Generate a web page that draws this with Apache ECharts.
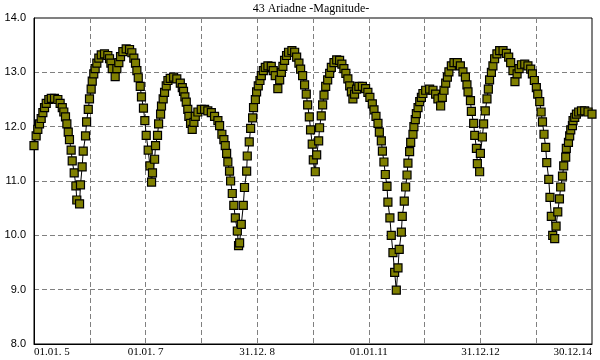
<!DOCTYPE html>
<html><head><meta charset="utf-8">
<script src="https://cdn.jsdelivr.net/npm/echarts@6/dist/echarts.min.js"></script>
<style>html,body{margin:0;padding:0;background:#fff}#c{width:600px;height:360px}</style>
</head><body><div id="c"></div>
<script>
// days since 2005-01-01
const dayOffsets = [0,14,25,36,47,58,69,80,97,113,134,156,171,185,195,206,215,224,232,243,250,263,274,280,298,304,315,322,337,344,355,363,374,381,391,400,411,424,440,461,483,494,503,512,531,542,555,566,581,603,625,640,653,664,673,682,695,703,716,725,734,747,758,769,775,789,795,808,815,828,834,845,854,865,876,891,913,934,957,970,978,987,996,1006,1013,1024,1035,1046,1055,1072,1094,1116,1137,1160,1181,1203,1214,1229,1242,1251,1260,1268,1279,1286,1297,1307,1317,1330,1338,1345,1356,1369,1377,1391,1395,1408,1417,1430,1436,1448,1456,1467,1478,1487,1500,1513,1530,1552,1565,1578,1595,1607,1618,1628,1639,1652,1665,1687,1705,1718,1733,1744,1757,1770,1781,1790,1801,1809,1820,1827,1840,1849,1862,1868,1879,1888,1897,1908,1921,1934,1945,1962,1980,1999,2014,2027,2040,2053,2065,2076,2086,2097,2110,2125,2148,2169,2184,2197,2213,2224,2237,2250,2259,2272,2279,2289,2298,2309,2315,2328,2337,2348,2359,2370,2381,2389,2403,2409,2422,2431,2440,2446,2457,2464,2479,2485,2494,2501,2512,2523,2534,2544,2562,2588,2610,2627,2642,2660,2671,2682,2693,2704,2714,2730,2747,2769,2789,2806,2822,2832,2839,2855,2861,2876,2883,2894,2900,2915,2920,2933,2941,2952,2963,2972,2980,2992,3002,3013,3028,3046,3068,3090,3105,3118,3133,3146,3160,3173,3188,3210,3231,3249,3260,3273,3286,3295,3308,3317,3326,3336,3347,3354,3367,3375,3384,3393,3406,3415,3426,3437,3445,3457,3465,3478,3482,3496,3504,3511,3522,3526,3537,3548,3563,3581,3602,3624,3650];
const magnitudes = [11.65,11.83,11.95,12.05,12.15,12.26,12.35,12.43,12.50,12.52,12.52,12.50,12.43,12.35,12.27,12.18,12.05,11.90,11.76,11.57,11.37,11.15,10.91,10.65,10.58,10.93,11.26,11.55,11.83,12.09,12.32,12.51,12.69,12.84,12.97,13.07,13.17,13.26,13.32,13.34,13.31,13.25,13.17,13.07,12.92,13.07,13.18,13.29,13.38,13.43,13.42,13.36,13.26,13.17,13.03,12.90,12.74,12.55,12.34,12.11,11.84,11.57,11.28,10.98,11.15,11.40,11.65,11.84,12.05,12.23,12.38,12.51,12.63,12.75,12.85,12.89,12.91,12.88,12.80,12.72,12.65,12.55,12.45,12.32,12.19,12.06,11.95,12.08,12.19,12.27,12.32,12.32,12.29,12.26,12.19,12.11,12.02,11.86,11.76,11.65,11.51,11.35,11.18,11.00,10.77,10.55,10.32,10.08,9.81,9.86,10.20,10.55,10.88,11.18,11.46,11.72,11.97,12.16,12.35,12.50,12.64,12.75,12.85,12.94,13.03,13.09,13.12,13.11,13.03,12.94,12.70,12.86,13.00,13.11,13.22,13.31,13.37,13.40,13.37,13.28,13.17,13.06,12.94,12.77,12.60,12.40,12.18,11.94,11.68,11.39,11.17,11.48,11.74,11.98,12.20,12.40,12.58,12.74,12.86,12.98,13.09,13.18,13.23,13.22,13.15,13.07,12.98,12.88,12.75,12.64,12.51,12.60,12.69,12.74,12.74,12.70,12.63,12.54,12.42,12.31,12.19,12.06,11.90,11.74,11.55,11.35,11.12,10.90,10.61,10.32,10.00,9.68,9.32,8.99,9.40,9.74,10.06,10.35,10.63,10.89,11.11,11.33,11.54,11.71,11.86,12.00,12.13,12.24,12.35,12.46,12.54,12.61,12.67,12.69,12.67,12.60,12.51,12.38,12.54,12.67,12.80,12.91,13.01,13.12,13.18,13.18,13.12,13.01,12.91,12.77,12.64,12.48,12.28,12.06,11.84,11.60,11.32,11.17,11.51,11.81,12.05,12.29,12.51,12.69,12.86,13.00,13.12,13.25,13.34,13.40,13.40,13.35,13.28,13.18,13.03,12.83,12.97,13.07,13.14,13.15,13.12,13.06,12.97,12.85,12.72,12.60,12.46,12.27,12.09,11.86,11.62,11.34,11.03,10.70,10.35,10.00,9.94,10.17,10.43,10.67,10.89,11.09,11.28,11.44,11.60,11.71,11.83,11.94,12.02,12.11,12.17,12.23,12.27,12.29,12.29,12.27,12.23];
const xTickLabels = ['01.01. 5','01.01. 7','31.12. 8','01.01.11','31.12.12','30.12.14'];
const yMin = 8, yMax = 14;
const titleText = '43 Ariadne -Magnitude-';

const points = dayOffsets.map((d, i) => [d, magnitudes[i]]);
const chart = echarts.init(document.getElementById('c'), null, {renderer: 'canvas'});
chart.setOption({
  animation: false,
  backgroundColor: '#fff',
  title: {
    text: titleText, left: 311, top: 3, padding: 0, textAlign: 'center',
    textStyle: {fontFamily: 'Liberation Serif', fontSize: 12, fontWeight: 'normal', color: '#000'}
  },
  grid: {left: 34, right: 8, top: 18, bottom: 16, show: true, borderColor: '#000', borderWidth: 1, backgroundColor: 'transparent'},
  xAxis: {
    type: 'value', min: 0, max: 3650, interval: 365,
    axisLine: {show: true, lineStyle: {color: '#000', width: 1}},
    axisTick: {show: false},
    splitLine: {show: true, lineStyle: {color: '#808080', type: [5, 3], width: 1}},
    axisLabel: {
      margin: 3, fontFamily: 'Liberation Serif', fontSize: 11, color: '#000',
      showMinLabel: true, showMaxLabel: true, alignMinLabel: 'left', alignMaxLabel: 'right',
      formatter: v => { const k = Math.round(v / 365); return k % 2 === 0 ? (xTickLabels[k / 2] || '') : ''; }
    }
  },
  yAxis: {
    type: 'value', min: yMin, max: yMax, interval: 1,
    axisLine: {show: true, lineStyle: {color: '#000', width: 1}},
    axisTick: {show: false},
    splitLine: {show: true, lineStyle: {color: '#808080', type: [5, 3], width: 1}},
    axisLabel: {margin: 8, fontFamily: 'Liberation Sans', fontSize: 11, color: '#000',
      padding: [0, 0, 6, 0], formatter: v => v.toFixed(1)}
  },
  series: [{
    type: 'line', data: points, showAllSymbol: true,
    symbol: 'rect', symbolSize: 8,
    lineStyle: {color: '#000', width: 1},
    itemStyle: {color: '#808000', borderColor: '#000', borderWidth: 1.2},
    emphasis: {disabled: true}
  }]
});
</script></body></html>
